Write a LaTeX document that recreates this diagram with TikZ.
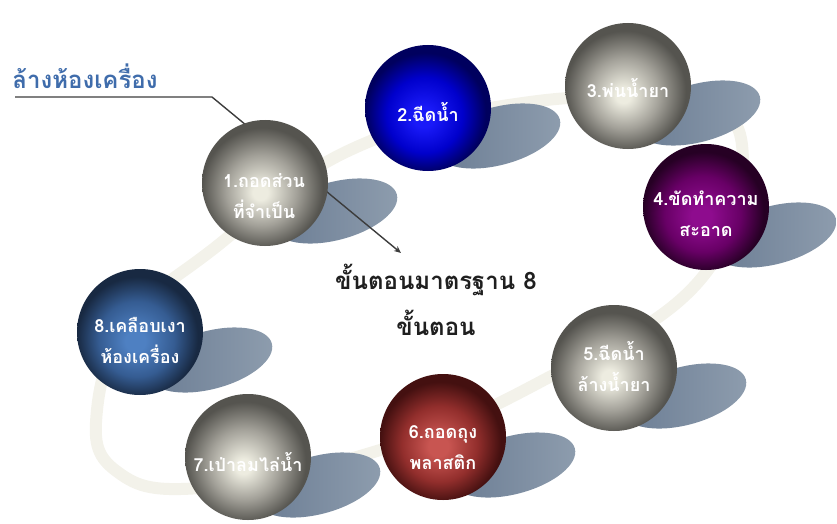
\documentclass[tikz,border=0pt]{standalone}
\usepackage{fontspec}
\newfontfamily\thai[Script=Thai]{Loma}
\usetikzlibrary{shapes.geometric,arrows.meta}
\definecolor{gA}{HTML}{EDECE0}\definecolor{gB}{HTML}{A3A199}\definecolor{gC}{HTML}{55544F}
\definecolor{bA}{HTML}{1A1AF8}\definecolor{bB}{HTML}{0000CC}\definecolor{bC}{HTML}{00005E}
\definecolor{pA}{HTML}{8E0C8E}\definecolor{pB}{HTML}{680066}\definecolor{pC}{HTML}{260024}
\definecolor{nA}{HTML}{4E80C2}\definecolor{nB}{HTML}{355C92}\definecolor{nC}{HTML}{182942}
\definecolor{rA}{HTML}{C85551}\definecolor{rB}{HTML}{922E2C}\definecolor{rC}{HTML}{441010}
\definecolor{ringc}{HTML}{F3F2EA}
\definecolor{shdark}{HTML}{6A7C93}\definecolor{shlight}{HTML}{8E9DAE}
\definecolor{titlec}{HTML}{3F6CAB}
\definecolor{linec}{HTML}{3C3C3C}
\pgfdeclareradialshading{sgray}{\pgfpoint{-2bp}{-4bp}}{color(0bp)=(gA); color(3bp)=(gA); color(14bp)=(gB); color(24bp)=(gC); color(50bp)=(gC)}
\pgfdeclareradialshading{sblue}{\pgfpoint{-2bp}{-4bp}}{color(0bp)=(bA); color(4bp)=(bA); color(15bp)=(bB); color(24bp)=(bC); color(50bp)=(bC)}
\pgfdeclareradialshading{spurple}{\pgfpoint{-2bp}{-4bp}}{color(0bp)=(pA); color(4bp)=(pA); color(15bp)=(pB); color(24bp)=(pC); color(50bp)=(pC)}
\pgfdeclareradialshading{snavy}{\pgfpoint{-2bp}{-4bp}}{color(0bp)=(nA); color(4bp)=(nA); color(15bp)=(nB); color(24bp)=(nC); color(50bp)=(nC)}
\pgfdeclareradialshading{sred}{\pgfpoint{-2bp}{-4bp}}{color(0bp)=(rA); color(4bp)=(rA); color(15bp)=(rB); color(24bp)=(rC); color(50bp)=(rC)}
\tikzset{
  ball/.style={circle, minimum size=126pt, inner sep=0pt},
  shadowell/.style={ellipse, minimum width=128pt, minimum height=58pt, inner sep=0pt, rotate=15, left color=shdark, right color=shlight},
  steptext/.style={text=white, font=\thai\bfseries\fontsize{18}{31}\selectfont, align=center, inner sep=0pt},
}
\begin{document}
\begin{tikzpicture}[x=1pt,y=-1pt]
\useasboundingbox (0,0) rectangle (837,524);
% ring
\draw[ringc, line width=12pt] plot[smooth cycle, tension=0.7] coordinates {(212,250) (350,150) (530,102) (680,105) (742,145) (700,280) (540,382) (380,450) (200,488) (115,470) (97,410) (130,320)};
% shadows
\node[shadowell] (h1) at (335,211) {};
\node[shadowell] (h2) at (498,136) {};
\node[shadowell] (h3) at (698,113) {};
\node[shadowell] (h4) at (774,235) {};
\node[shadowell] (h5) at (684,396) {};
\node[shadowell] (h6) at (513,465) {};
\node[shadowell] (h7) at (318,485) {};
\node[shadowell] (h8) at (210,360) {};
% connector
\coordinate (lstart) at (15,97);
\coordinate (lbend) at (212,97);
\coordinate (ltip) at (401,253);
\draw[linec, line width=1.4pt, -{Stealth[length=7pt,width=6pt]}] (lstart) -- (lbend) -- (ltip);
% spheres
\node[ball, shading=sgray] (s1) at (265,183) {};
\node[ball, shading=sblue] (s2) at (428,108) {};
\node[ball, shading=sgray] (s3) at (628,86) {};
\node[ball, shading=spurple] (s4) at (706,207) {};
\node[ball, shading=sgray] (s5) at (614,368) {};
\node[ball, shading=sred] (s6) at (443,437) {};
\node[ball, shading=sgray] (s7) at (248,457) {};
\node[ball, shading=snavy] (s8) at (140,332) {};
% texts
\node[steptext] (t1) at (264,196) {1.ถอดส่วน\\ที่จำเป็น};
\node[steptext] (t2) at (428,112) {2.ฉีดน้ำ};
\node[steptext] (t3) at (628,88) {3.พ่นน้ำยา};
\node[steptext] (t4) at (706,214) {4.ขัดทำความ\\สะอาด};
\node[steptext] (t5) at (614,367) {5.ฉีดน้ำ\\ล้างน้ำยา};
\node[steptext] (t6) at (443,448) {6.ถอดถุง\\พลาสติก};
\node[steptext] (t7) at (248,462) {7.เป่าลมไล่น้ำ};
\node[steptext] (t8) at (140,340) {8.เคลือบเงา\\ห้องเครื่อง};
\node[text=titlec, font=\thai\bfseries\fontsize{24}{26}\selectfont, inner sep=0pt] (title) at (85,76) {ล้างห้องเครื่อง};
\node[text=black!88, font=\thai\bfseries\fontsize{24}{46}\selectfont, align=center, inner sep=0pt] (center) at (436,300) {ขั้นตอนมาตรฐาน 8\\ขั้นตอน};
\end{tikzpicture}
\end{document}
